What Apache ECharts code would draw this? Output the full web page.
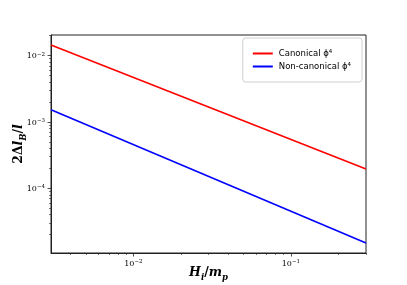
<!DOCTYPE html>
<html>
<head>
<meta charset="utf-8">
<script src="https://cdn.jsdelivr.net/npm/echarts@6/dist/echarts.min.js"></script>
<style>html,body{margin:0;padding:0;background:#fff;}#c{width:407px;height:285px;}</style>
</head>
<body>
<div id="c"></div>
<script>
// ---- data ----
const xValues = [0.003, 0.3];
const canonical = [0.0145, 1.95e-4];
const nonCanonical = [1.53e-3, 1.5e-5];
const seriesNames = ['Canonical \u03d5\u2074', 'Non-canonical \u03d5\u2074'];
const xRange = [0.003, 0.3];
const yRange = [1.06e-5, 0.0205];
const xMajorTicks = [0.01, 0.1];
const xMajorExponents = [-2, -1];
const xMinorTicks = [0.004, 0.005, 0.006, 0.007, 0.008, 0.009, 0.02, 0.03, 0.04, 0.05, 0.06, 0.07, 0.08, 0.09, 0.2, 0.3];
const yMajorTicks = [1e-4, 1e-3, 1e-2];
const yMajorExponents = [-4, -3, -2];
const yMinorTicks = [2e-5, 3e-5, 4e-5, 5e-5, 6e-5, 7e-5, 8e-5, 9e-5, 2e-4, 3e-4, 4e-4, 5e-4, 6e-4, 7e-4, 8e-4, 9e-4, 2e-3, 3e-3, 4e-3, 5e-3, 6e-3, 7e-3, 8e-3, 9e-3, 2e-2];

const serif = "'DejaVu Serif', 'Liberation Serif', serif";
function expLabel(v, ticks, exps) {
  let i = ticks.findIndex(t => Math.abs(Math.log10(t) - Math.log10(v)) < 1e-6);
  if (i < 0) return '';
  return '{b|10}{s|\u2212' + Math.abs(exps[i]) + '}';
}
const tickRich = {
  b: {fontFamily: serif, fontSize: 8, color: '#000', verticalAlign: 'bottom'},
  s: {fontFamily: serif, fontSize: 5.5, color: '#000', verticalAlign: 'top', padding: [0, 0, 3, 0]}
};
const nameRich = {
  n: {fontFamily: serif, fontSize: 12.5, fontWeight: 'bold', color: '#000', verticalAlign: 'bottom'},
  i: {fontFamily: serif, fontSize: 12.5, fontWeight: 'bold', fontStyle: 'italic', color: '#000', verticalAlign: 'bottom'},
  sub: {fontFamily: serif, fontSize: 8.5, fontWeight: 'bold', fontStyle: 'italic', color: '#000', verticalAlign: 'bottom', padding: [0, 0, -3, 0]}
};

function axisPair(kind) {
  const isX = kind === 'x';
  const range = isX ? xRange : yRange;
  const major = isX ? xMajorTicks : yMajorTicks;
  const exps = isX ? xMajorExponents : yMajorExponents;
  const minor = isX ? xMinorTicks : yMinorTicks;
  const base = {
    type: 'log', logBase: 10, min: range[0], max: range[1],
    position: isX ? 'bottom' : 'left',
    splitLine: {show: false}, minorTick: {show: false}, minorSplitLine: {show: false}
  };
  const majorAxis = Object.assign({}, base, {
    axisLine: {show: true, lineStyle: {color: '#222', width: 1}},
    axisTick: {show: true, inside: false, length: 3.5, customValues: major, lineStyle: {color: '#222', width: 0.8}},
    axisLabel: {show: true, customValues: major, margin: 6,
      formatter: v => expLabel(v, major, exps), rich: tickRich},
    nameLocation: 'middle',
    nameMoveOverlap: false,
    name: isX ? '{i|H}{sub|i}{n|/}{i|m}{sub|p}' : '{n|2\u0394}{i|l}{sub|B}{n|/}{i|l}',
    nameGap: isX ? 13 : 26,
    nameRotate: isX ? 0 : 90,
    nameTextStyle: {rich: nameRich}
  });
  const minorAxis = Object.assign({}, base, {
    axisLine: {show: false},
    axisTick: {show: true, inside: false, length: 2, customValues: minor, lineStyle: {color: '#222', width: 0.6}},
    axisLabel: {show: false}
  });
  return [majorAxis, minorAxis];
}

const chart = echarts.init(document.getElementById('c'), null, {renderer: 'canvas'});
chart.setOption({
  animation: false,
  backgroundColor: '#fff',
  grid: {left: 51, right: 41, top: 35, bottom: 32, containLabel: false, outerBoundsMode: 'none',
         show: true, borderColor: '#222', borderWidth: 1, backgroundColor: 'transparent'},
  xAxis: axisPair('x'),
  yAxis: axisPair('y'),
  legend: {
    orient: 'vertical', right: 45, top: 38,
    backgroundColor: '#fff', borderColor: '#d0d0d0', borderWidth: 1, borderRadius: 3,
    padding: [11, 11, 11, 10], itemGap: 4, itemWidth: 20, itemHeight: 2,
    icon: 'rect',
    textStyle: {fontFamily: "'DejaVu Sans', sans-serif", fontSize: 8.5, color: '#000', padding: [0, 0, 0, 1]},
    data: seriesNames
  },
  series: [
    {name: seriesNames[0], type: 'line', xAxisIndex: 0, yAxisIndex: 0, showSymbol: false,
     data: xValues.map((x, i) => [x, canonical[i]]), lineStyle: {color: '#ff0000', width: 1.6}, itemStyle: {color: '#ff0000'}},
    {name: seriesNames[1], type: 'line', xAxisIndex: 0, yAxisIndex: 0, showSymbol: false,
     data: xValues.map((x, i) => [x, nonCanonical[i]]), lineStyle: {color: '#0000ff', width: 1.6}, itemStyle: {color: '#0000ff'}}
  ]
});
</script>
</body>
</html>
